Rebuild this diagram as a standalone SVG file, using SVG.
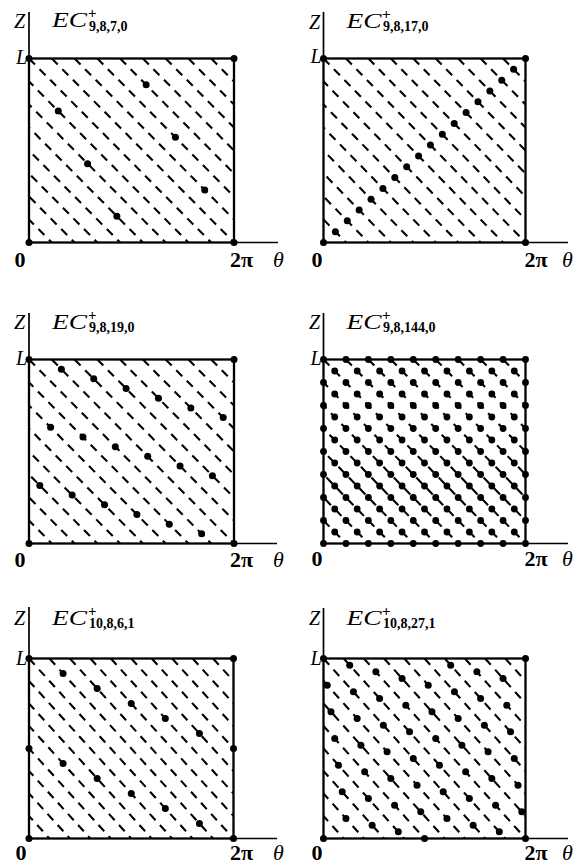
<svg xmlns="http://www.w3.org/2000/svg" xmlns:xlink="http://www.w3.org/1999/xlink" width="575" height="864" viewBox="0 0 575 864">
<style>
.box{fill:none;stroke:#000;stroke-width:2.3}
.ax{fill:none;stroke:#000;stroke-width:1.7}
.h{fill:none;stroke:#000;stroke-width:2.1;stroke-dasharray:8.5 6.5}
.d{fill:#000}
.lb{font-family:"Liberation Serif","Times New Roman",serif;fill:#000}
.it{font-style:italic;font-size:20px}
.ec{font-style:italic;font-size:21px}
.sp{font-size:15px;font-weight:bold}
.sb{font-size:14px;font-weight:bold}
.bt{font-size:22px;font-weight:bold;text-anchor:middle}
.th{font-size:22px;font-style:italic}
.end{text-anchor:end}
</style>
<defs>
<clipPath id="c1"><rect x="29" y="58.5" width="205" height="184"/></clipPath>
<clipPath id="c2"><rect x="323.5" y="58.5" width="202" height="184"/></clipPath>
<clipPath id="c3"><rect x="29" y="359.5" width="205" height="184"/></clipPath>
<clipPath id="c4"><rect x="323.5" y="359.5" width="202" height="184"/></clipPath>
<clipPath id="c5"><rect x="29" y="658.5" width="204.5" height="180"/></clipPath>
<clipPath id="c6"><rect x="323.5" y="658.5" width="202" height="180"/></clipPath>
<path id="hL" class="h" d="M-130.44 0L51.78 184M-107.67 0L74.56 184M-84.89 0L97.33 184M-62.11 0L120.11 184M-39.33 0L142.89 184M-16.56 0L165.67 184M6.22 0L188.44 184M29 0L211.22 184M51.78 0L234 184M74.56 0L256.78 184M97.33 0L279.56 184M120.11 0L302.33 184M142.89 0L325.11 184M165.67 0L347.89 184M188.44 0L370.67 184M211.22 0L393.44 184"/>
<path id="hR" class="h" d="M166.39 0L345.94 184M188.83 0L368.39 184M211.28 0L390.83 184M233.72 0L413.28 184M256.17 0L435.72 184M278.61 0L458.17 184M301.06 0L480.61 184M323.5 0L503.06 184M345.94 0L525.5 184M368.39 0L547.94 184M390.83 0L570.39 184M413.28 0L592.83 184M435.72 0L615.28 184M458.17 0L637.72 184M480.61 0L660.17 184M503.06 0L682.61 184"/>
<g id="rowE" class="d">
<circle cx="323.5" cy="0" r="3.4"/><circle cx="345.94" cy="0" r="3.4"/><circle cx="368.39" cy="0" r="3.4"/><circle cx="390.83" cy="0" r="3.4"/><circle cx="413.28" cy="0" r="3.4"/><circle cx="435.72" cy="0" r="3.4"/><circle cx="458.17" cy="0" r="3.4"/><circle cx="480.61" cy="0" r="3.4"/><circle cx="503.06" cy="0" r="3.4"/><circle cx="525.5" cy="0" r="3.4"/>
</g>
<g id="rowO" class="d">
<circle cx="334.72" cy="0" r="3.4"/><circle cx="357.17" cy="0" r="3.4"/><circle cx="379.61" cy="0" r="3.4"/><circle cx="402.06" cy="0" r="3.4"/><circle cx="424.5" cy="0" r="3.4"/><circle cx="446.94" cy="0" r="3.4"/><circle cx="469.39" cy="0" r="3.4"/><circle cx="491.83" cy="0" r="3.4"/><circle cx="514.28" cy="0" r="3.4"/>
</g>
</defs>
<rect width="575" height="864" fill="#fff"/>

<g id="panel-1">
<g clip-path="url(#c1)"><use href="#hL" y="58.5"/></g>
<rect class="box" x="29" y="58.5" width="205" height="184"/>
<path class="ax" d="M29 12V58.5M234 242.5H278"/>
<g class="d">
<circle cx="29" cy="58.5" r="3.5"/><circle cx="234" cy="58.5" r="3.5"/><circle cx="29" cy="242.5" r="3.5"/><circle cx="234" cy="242.5" r="3.5"/>
<circle cx="58.29" cy="111.07" r="3.5"/><circle cx="87.57" cy="163.64" r="3.5"/><circle cx="116.86" cy="216.21" r="3.5"/><circle cx="146.14" cy="84.79" r="3.5"/><circle cx="175.43" cy="137.36" r="3.5"/><circle cx="204.71" cy="189.93" r="3.5"/>
</g>
<text class="lb it end" x="25" y="27.5">Z</text>
<text class="lb ec" x="52" y="27" textLength="35" lengthAdjust="spacingAndGlyphs">EC</text>
<text class="lb sp" x="88" y="18">+</text>
<text class="lb sb" x="89" y="30.5">9,8,7,0</text>
<text class="lb it end" x="27" y="63.5">L</text>
<text class="lb bt" x="20" y="266.5">0</text>
<text class="lb bt" x="241.5" y="266.5">2π</text>
<text class="lb th" x="273" y="266.5">θ</text>
</g>

<g id="panel-2">
<g clip-path="url(#c2)"><use href="#hR" y="58.5"/></g>
<rect class="box" x="323.5" y="58.5" width="202" height="184"/>
<path class="ax" d="M323.5 12V58.5M525.5 242.5H568"/>
<g class="d">
<circle cx="323.5" cy="58.5" r="3.5"/><circle cx="525.5" cy="58.5" r="3.5"/><circle cx="323.5" cy="242.5" r="3.5"/><circle cx="525.5" cy="242.5" r="3.5"/>
<circle cx="335.38" cy="231.68" r="3.5"/><circle cx="347.26" cy="220.85" r="3.5"/><circle cx="359.15" cy="210.03" r="3.5"/><circle cx="371.03" cy="199.21" r="3.5"/><circle cx="382.91" cy="188.38" r="3.5"/><circle cx="394.79" cy="177.56" r="3.5"/><circle cx="406.68" cy="166.74" r="3.5"/><circle cx="418.56" cy="155.91" r="3.5"/><circle cx="430.44" cy="145.09" r="3.5"/><circle cx="442.32" cy="134.26" r="3.5"/><circle cx="454.21" cy="123.44" r="3.5"/><circle cx="466.09" cy="112.62" r="3.5"/><circle cx="477.97" cy="101.79" r="3.5"/><circle cx="489.85" cy="90.97" r="3.5"/><circle cx="501.74" cy="80.15" r="3.5"/><circle cx="513.62" cy="69.32" r="3.5"/>
</g>
<text class="lb it end" x="320" y="28.5">Z</text>
<text class="lb ec" x="346.5" y="27.5" textLength="35" lengthAdjust="spacingAndGlyphs">EC</text>
<text class="lb sp" x="382" y="18.5">+</text>
<text class="lb sb" x="383" y="31">9,8,17,0</text>
<text class="lb it end" x="321.5" y="63">L</text>
<text class="lb bt" x="317" y="266.5">0</text>
<text class="lb bt" x="536" y="266.5">2π</text>
<text class="lb th" x="562" y="266.5">θ</text>
</g>

<g id="panel-3">
<g clip-path="url(#c3)"><use href="#hL" y="359.5"/></g>
<rect class="box" x="29" y="359.5" width="205" height="184"/>
<path class="ax" d="M29 313V359.5M234 543.5H277"/>
<g class="d">
<circle cx="29" cy="359.5" r="3.5"/><circle cx="234" cy="359.5" r="3.5"/><circle cx="29" cy="543.5" r="3.5"/><circle cx="234" cy="543.5" r="3.5"/>
<circle cx="39.79" cy="485.39" r="3.5"/><circle cx="50.58" cy="427.29" r="3.5"/><circle cx="61.37" cy="369.18" r="3.5"/><circle cx="72.16" cy="495.08" r="3.5"/><circle cx="82.95" cy="436.97" r="3.5"/><circle cx="93.74" cy="378.87" r="3.5"/><circle cx="104.53" cy="504.76" r="3.5"/><circle cx="115.32" cy="446.66" r="3.5"/><circle cx="126.11" cy="388.55" r="3.5"/><circle cx="136.89" cy="514.45" r="3.5"/><circle cx="147.68" cy="456.34" r="3.5"/><circle cx="158.47" cy="398.24" r="3.5"/><circle cx="169.26" cy="524.13" r="3.5"/><circle cx="180.05" cy="466.03" r="3.5"/><circle cx="190.84" cy="407.92" r="3.5"/><circle cx="201.63" cy="533.82" r="3.5"/><circle cx="212.42" cy="475.71" r="3.5"/><circle cx="223.21" cy="417.61" r="3.5"/>
</g>
<text class="lb it end" x="25" y="329">Z</text>
<text class="lb ec" x="52" y="328.5" textLength="35" lengthAdjust="spacingAndGlyphs">EC</text>
<text class="lb sp" x="88" y="319.5">+</text>
<text class="lb sb" x="89" y="332">9,8,19,0</text>
<text class="lb it end" x="27" y="365">L</text>
<text class="lb bt" x="20" y="566.5">0</text>
<text class="lb bt" x="241.5" y="566.5">2π</text>
<text class="lb th" x="273" y="566.5">θ</text>
</g>

<g id="panel-4">
<g clip-path="url(#c4)"><use href="#hR" y="359.5"/></g>
<rect class="box" x="323.5" y="359.5" width="202" height="184"/>
<path class="ax" d="M323.5 313V359.5M525.5 543.5H568"/>
<use href="#rowE" y="359.5"/><use href="#rowO" y="371"/><use href="#rowE" y="382.5"/><use href="#rowO" y="394"/><use href="#rowE" y="405.5"/><use href="#rowO" y="417"/><use href="#rowE" y="428.5"/><use href="#rowO" y="440"/><use href="#rowE" y="451.5"/><use href="#rowO" y="463"/><use href="#rowE" y="474.5"/><use href="#rowO" y="486"/><use href="#rowE" y="497.5"/><use href="#rowO" y="509"/><use href="#rowE" y="520.5"/><use href="#rowO" y="532"/><use href="#rowE" y="543.5"/>
<text class="lb it end" x="320" y="329">Z</text>
<text class="lb ec" x="346.5" y="328.5" textLength="35" lengthAdjust="spacingAndGlyphs">EC</text>
<text class="lb sp" x="382" y="319.5">+</text>
<text class="lb sb" x="383" y="332">9,8,144,0</text>
<text class="lb it end" x="321.5" y="365">L</text>
<text class="lb bt" x="317" y="566">0</text>
<text class="lb bt" x="536" y="566">2π</text>
<text class="lb th" x="562" y="566">θ</text>
</g>

<g id="panel-5">
<g clip-path="url(#c5)"><path class="h" d="M-114.15 658.5L49.45 838.5M-93.7 658.5L69.9 838.5M-73.25 658.5L90.35 838.5M-52.8 658.5L110.8 838.5M-32.35 658.5L131.25 838.5M-11.9 658.5L151.7 838.5M8.55 658.5L172.15 838.5M29 658.5L192.6 838.5M49.45 658.5L213.05 838.5M69.9 658.5L233.5 838.5M90.35 658.5L253.95 838.5M110.8 658.5L274.4 838.5M131.25 658.5L294.85 838.5M151.7 658.5L315.3 838.5M172.15 658.5L335.75 838.5M192.6 658.5L356.2 838.5M213.05 658.5L376.65 838.5"/></g>
<rect class="box" x="29" y="658.5" width="204.5" height="180"/>
<path class="ax" d="M29 607V658.5M233.5 838.5H277"/>
<g class="d">
<circle cx="29" cy="658.5" r="3.5"/><circle cx="233.5" cy="658.5" r="3.5"/><circle cx="29" cy="838.5" r="3.5"/><circle cx="233.5" cy="838.5" r="3.5"/>
<circle cx="29" cy="748.5" r="3.5"/><circle cx="233.5" cy="748.5" r="3.5"/>
<circle cx="63.08" cy="763.5" r="3.5"/><circle cx="63.08" cy="673.5" r="3.5"/><circle cx="97.17" cy="778.5" r="3.5"/><circle cx="97.17" cy="688.5" r="3.5"/><circle cx="131.25" cy="793.5" r="3.5"/><circle cx="131.25" cy="703.5" r="3.5"/><circle cx="165.33" cy="808.5" r="3.5"/><circle cx="165.33" cy="718.5" r="3.5"/><circle cx="199.42" cy="823.5" r="3.5"/><circle cx="199.42" cy="733.5" r="3.5"/>
</g>
<text class="lb it end" x="25" y="625">Z</text>
<text class="lb ec" x="52" y="624.5" textLength="35" lengthAdjust="spacingAndGlyphs">EC</text>
<text class="lb sp" x="88" y="615.5">+</text>
<text class="lb sb" x="89" y="628">10,8,6,1</text>
<text class="lb it end" x="27" y="664.5">L</text>
<text class="lb bt" x="21" y="860">0</text>
<text class="lb bt" x="241.5" y="860">2π</text>
<text class="lb th" x="273" y="860">θ</text>
</g>

<g id="panel-6">
<g clip-path="url(#c6)"><path class="h" d="M182.1 658.5L343.7 838.5M202.3 658.5L363.9 838.5M222.5 658.5L384.1 838.5M242.7 658.5L404.3 838.5M262.9 658.5L424.5 838.5M283.1 658.5L444.7 838.5M303.3 658.5L464.9 838.5M323.5 658.5L485.1 838.5M343.7 658.5L505.3 838.5M363.9 658.5L525.5 838.5M384.1 658.5L545.7 838.5M404.3 658.5L565.9 838.5M424.5 658.5L586.1 838.5M444.7 658.5L606.3 838.5M464.9 658.5L626.5 838.5M485.1 658.5L646.7 838.5M505.3 658.5L666.9 838.5"/></g>
<rect class="box" x="323.5" y="658.5" width="202" height="180"/>
<path class="ax" d="M323.5 608V658.5M525.5 838.5H568"/>
<g class="d">
<circle cx="323.5" cy="658.5" r="3.5"/><circle cx="525.5" cy="658.5" r="3.5"/><circle cx="323.5" cy="838.5" r="3.5"/><circle cx="525.5" cy="838.5" r="3.5"/>
<circle cx="327.24" cy="685.17" r="3.5"/><circle cx="330.98" cy="711.83" r="3.5"/><circle cx="334.72" cy="738.5" r="3.5"/><circle cx="338.46" cy="765.17" r="3.5"/><circle cx="342.2" cy="791.83" r="3.5"/><circle cx="345.94" cy="818.5" r="3.5"/>
<circle cx="349.69" cy="665.17" r="3.5"/><circle cx="353.43" cy="691.83" r="3.5"/><circle cx="357.17" cy="718.5" r="3.5"/><circle cx="360.91" cy="745.17" r="3.5"/><circle cx="364.65" cy="771.83" r="3.5"/><circle cx="368.39" cy="798.5" r="3.5"/><circle cx="372.13" cy="825.17" r="3.5"/>
<circle cx="375.87" cy="671.83" r="3.5"/><circle cx="379.61" cy="698.5" r="3.5"/><circle cx="383.35" cy="725.17" r="3.5"/><circle cx="387.09" cy="751.83" r="3.5"/><circle cx="390.83" cy="778.5" r="3.5"/><circle cx="394.57" cy="805.17" r="3.5"/><circle cx="398.31" cy="831.83" r="3.5"/>
<circle cx="402.06" cy="678.5" r="3.5"/><circle cx="405.8" cy="705.17" r="3.5"/><circle cx="409.54" cy="731.83" r="3.5"/><circle cx="413.28" cy="758.5" r="3.5"/><circle cx="417.02" cy="785.17" r="3.5"/><circle cx="420.76" cy="811.83" r="3.5"/>
<circle cx="424.5" cy="838.5" r="3.5"/>
<circle cx="428.24" cy="685.17" r="3.5"/><circle cx="431.98" cy="711.83" r="3.5"/><circle cx="435.72" cy="738.5" r="3.5"/><circle cx="439.46" cy="765.17" r="3.5"/><circle cx="443.2" cy="791.83" r="3.5"/><circle cx="446.94" cy="818.5" r="3.5"/>
<circle cx="450.69" cy="665.17" r="3.5"/><circle cx="454.43" cy="691.83" r="3.5"/><circle cx="458.17" cy="718.5" r="3.5"/><circle cx="461.91" cy="745.17" r="3.5"/><circle cx="465.65" cy="771.83" r="3.5"/><circle cx="469.39" cy="798.5" r="3.5"/><circle cx="473.13" cy="825.17" r="3.5"/>
<circle cx="476.87" cy="671.83" r="3.5"/><circle cx="480.61" cy="698.5" r="3.5"/><circle cx="484.35" cy="725.17" r="3.5"/><circle cx="488.09" cy="751.83" r="3.5"/><circle cx="491.83" cy="778.5" r="3.5"/><circle cx="495.57" cy="805.17" r="3.5"/><circle cx="499.31" cy="831.83" r="3.5"/>
<circle cx="503.06" cy="678.5" r="3.5"/><circle cx="506.8" cy="705.17" r="3.5"/><circle cx="510.54" cy="731.83" r="3.5"/><circle cx="514.28" cy="758.5" r="3.5"/><circle cx="518.02" cy="785.17" r="3.5"/><circle cx="521.76" cy="811.83" r="3.5"/>
</g>
<text class="lb it end" x="320" y="625">Z</text>
<text class="lb ec" x="346.5" y="624.5" textLength="35" lengthAdjust="spacingAndGlyphs">EC</text>
<text class="lb sp" x="382" y="615.5">+</text>
<text class="lb sb" x="383" y="628">10,8,27,1</text>
<text class="lb it end" x="321.5" y="664.5">L</text>
<text class="lb bt" x="317" y="860">0</text>
<text class="lb bt" x="536" y="860">2π</text>
<text class="lb th" x="562" y="860">θ</text>
</g>
</svg>
